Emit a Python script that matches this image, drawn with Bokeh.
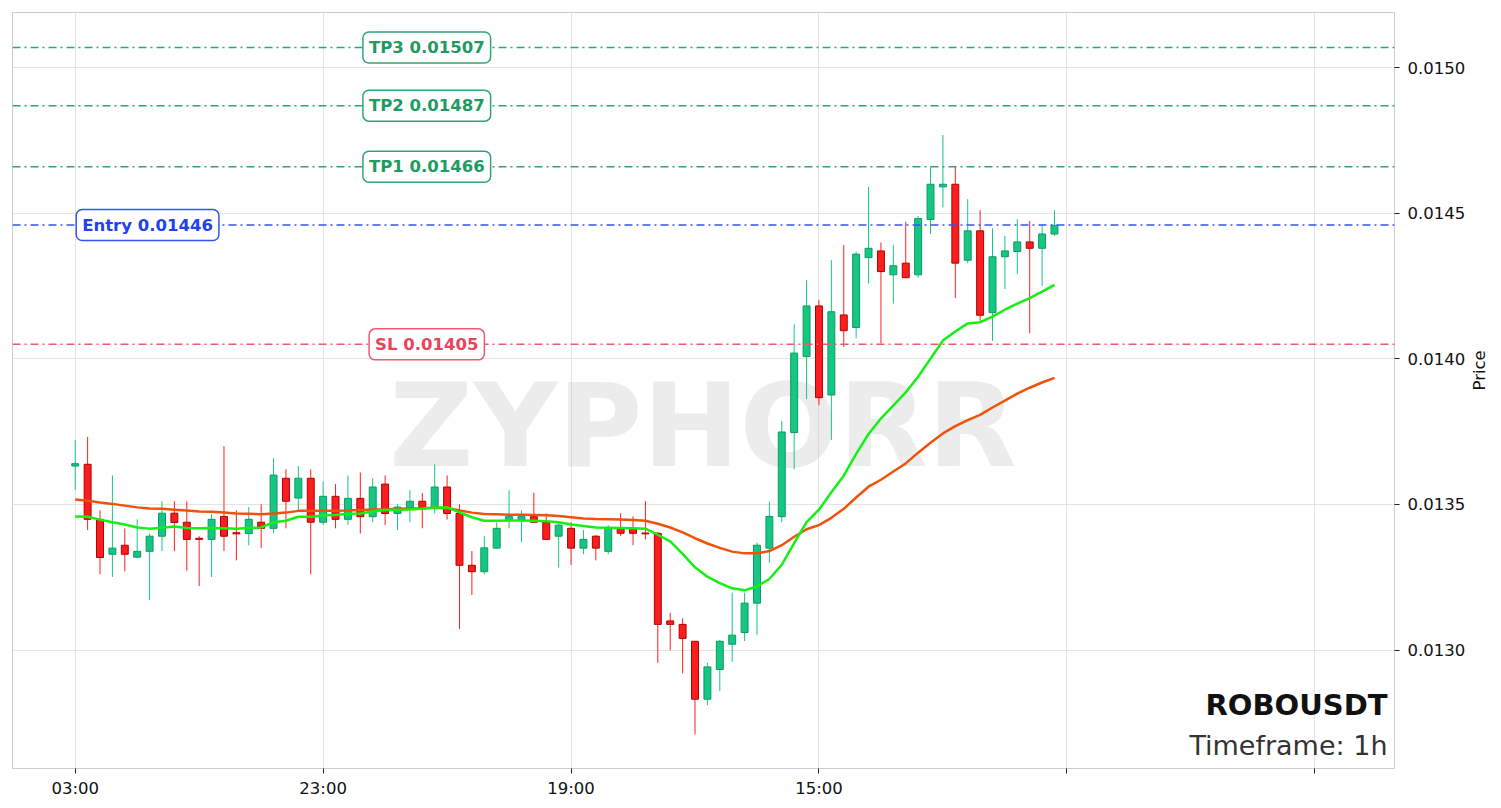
from math import pi

from bokeh.models import (
    ColumnDataSource,
    Span,
    Label,
    Range1d,
    FixedTicker,
    NumeralTickFormatter,
)
from bokeh.plotting import figure
from bokeh.core.properties import value
from bokeh.embed import file_html
from bokeh.resources import INLINE

# hourly candles
opens = [0.013632, 0.013638, 0.013449, 0.013329, 0.013360, 0.013319, 0.013339, 0.013391, 0.013470, 0.013439,
         0.013384, 0.013380, 0.013459, 0.013403, 0.013400, 0.013439, 0.013418, 0.013590, 0.013522, 0.013590,
         0.013439, 0.013528, 0.013449, 0.013521, 0.013458, 0.013570, 0.013469, 0.013489, 0.013511, 0.013489,
         0.013560, 0.013469, 0.013291, 0.013269, 0.013350, 0.013448, 0.013448, 0.013458, 0.013439, 0.013391,
         0.013418, 0.013350, 0.013391, 0.013339, 0.013418, 0.013418, 0.013402, 0.013401, 0.013100, 0.013088,
         0.013030, 0.012831, 0.012933, 0.013020, 0.013060, 0.013161, 0.013350, 0.013458, 0.013747, 0.014008,
         0.014182, 0.013876, 0.014151, 0.014108, 0.014348, 0.014371, 0.014289, 0.014329, 0.014289, 0.014479,
         0.014591, 0.014600, 0.014339, 0.014440, 0.014159, 0.014351, 0.014369, 0.014402, 0.014380, 0.014429]
highs = [0.013722, 0.013732, 0.013480, 0.013600, 0.013418, 0.013449, 0.013400, 0.013511, 0.013511, 0.013511,
         0.013391, 0.013467, 0.013700, 0.013480, 0.013491, 0.013501, 0.013659, 0.013621, 0.013632, 0.013621,
         0.013579, 0.013570, 0.013600, 0.013610, 0.013590, 0.013600, 0.013501, 0.013549, 0.013540, 0.013638,
         0.013600, 0.013501, 0.013340, 0.013391, 0.013438, 0.013549, 0.013480, 0.013540, 0.013469, 0.013435,
         0.013439, 0.013412, 0.013395, 0.013429, 0.013470, 0.013459, 0.013511, 0.013405, 0.013128, 0.013109,
         0.013030, 0.012956, 0.013035, 0.013197, 0.013197, 0.013369, 0.013510, 0.013787, 0.014119, 0.014270,
         0.014202, 0.014339, 0.014391, 0.014369, 0.014591, 0.014400, 0.014391, 0.014471, 0.014491, 0.014660,
         0.014769, 0.014660, 0.014549, 0.014511, 0.014449, 0.014423, 0.014480, 0.014474, 0.014459, 0.014511]
lows = [0.013550, 0.013412, 0.013260, 0.013251, 0.013270, 0.013315, 0.013171, 0.013340, 0.013340, 0.013272,
        0.013220, 0.013251, 0.013340, 0.013308, 0.013360, 0.013350, 0.013401, 0.013418, 0.013478, 0.013260,
        0.013430, 0.013418, 0.013430, 0.013400, 0.013439, 0.013429, 0.013412, 0.013439, 0.013418, 0.013469,
        0.013448, 0.013072, 0.013189, 0.013260, 0.013350, 0.013418, 0.013370, 0.013439, 0.013380, 0.013283,
        0.013292, 0.013329, 0.013308, 0.013329, 0.013391, 0.013360, 0.013380, 0.012956, 0.012999, 0.012920,
        0.012710, 0.012811, 0.012859, 0.012959, 0.013031, 0.013052, 0.013300, 0.013439, 0.013621, 0.013862,
        0.013841, 0.013721, 0.014041, 0.014071, 0.014259, 0.014053, 0.014190, 0.014279, 0.014279, 0.014429,
        0.014520, 0.014209, 0.014329, 0.014131, 0.014062, 0.014240, 0.014291, 0.014088, 0.014251, 0.014423]
closes = [0.013640, 0.013449, 0.013318, 0.013350, 0.013329, 0.013339, 0.013391, 0.013470, 0.013438, 0.013380,
          0.013380, 0.013449, 0.013391, 0.013399, 0.013449, 0.013418, 0.013601, 0.013511, 0.013590, 0.013439,
          0.013528, 0.013449, 0.013521, 0.013458, 0.013560, 0.013469, 0.013491, 0.013511, 0.013489, 0.013560,
          0.013469, 0.013291, 0.013269, 0.013351, 0.013418, 0.013458, 0.013458, 0.013439, 0.013380, 0.013429,
          0.013350, 0.013380, 0.013350, 0.013418, 0.013401, 0.013401, 0.013399, 0.013088, 0.013088, 0.013040,
          0.012831, 0.012942, 0.013030, 0.013051, 0.013161, 0.013360, 0.013459, 0.013749, 0.014020, 0.014182,
          0.013867, 0.014162, 0.014097, 0.014360, 0.014380, 0.014300, 0.014320, 0.014279, 0.014482, 0.014600,
          0.014600, 0.014329, 0.014440, 0.014150, 0.014351, 0.014371, 0.014402, 0.014380, 0.014429, 0.014459]

# the two moving averages as drawn
ma_fast = [0.013459, 0.013458, 0.013448, 0.013439, 0.013431, 0.013421, 0.013417, 0.013420, 0.013424, 0.013419,
           0.013418, 0.013419, 0.013418, 0.013417, 0.013419, 0.013421, 0.013439, 0.013444, 0.013458, 0.013458,
           0.013462, 0.013464, 0.013468, 0.013469, 0.013476, 0.013481, 0.013482, 0.013483, 0.013485, 0.013490,
           0.013490, 0.013473, 0.013456, 0.013444, 0.013444, 0.013445, 0.013445, 0.013444, 0.013442, 0.013439,
           0.013431, 0.013426, 0.013421, 0.013420, 0.013419, 0.013418, 0.013417, 0.013396, 0.013373, 0.013330,
           0.013284, 0.013252, 0.013230, 0.013212, 0.013205, 0.013219, 0.013244, 0.013293, 0.013367, 0.013439,
           0.013482, 0.013542, 0.013599, 0.013674, 0.013742, 0.013795, 0.013840, 0.013885, 0.013939, 0.014001,
           0.014063, 0.014094, 0.014122, 0.014126, 0.014145, 0.014169, 0.014190, 0.014209, 0.014231, 0.014254]
ma_slow = [0.013517, 0.013513, 0.013507, 0.013502, 0.013496, 0.013490, 0.013486, 0.013485, 0.013482, 0.013479,
           0.013476, 0.013475, 0.013472, 0.013469, 0.013468, 0.013466, 0.013469, 0.013472, 0.013478, 0.013478,
           0.013478, 0.013478, 0.013479, 0.013481, 0.013483, 0.013483, 0.013485, 0.013486, 0.013487, 0.013489,
           0.013488, 0.013479, 0.013472, 0.013467, 0.013466, 0.013465, 0.013465, 0.013464, 0.013463, 0.013460,
           0.013456, 0.013452, 0.013450, 0.013449, 0.013448, 0.013447, 0.013444, 0.013434, 0.013421, 0.013404,
           0.013384, 0.013366, 0.013351, 0.013338, 0.013332, 0.013332, 0.013340, 0.013360, 0.013389, 0.013415,
           0.013429, 0.013454, 0.013485, 0.013524, 0.013561, 0.013585, 0.013613, 0.013641, 0.013678, 0.013712,
           0.013744, 0.013769, 0.013790, 0.013808, 0.013833, 0.013857, 0.013881, 0.013901, 0.013919, 0.013935]

tick_pos = [0, 20, 40, 60, 80, 100]
tick_labels = ["03:00", "23:00", "19:00", "15:00", "", ""]
price_ticks = [0.0130, 0.0135, 0.0140, 0.0145, 0.0150]

level_names = ["TP3", "TP2", "TP1", "Entry", "SL"]
level_prices = [0.01507, 0.01487, 0.01466, 0.01446, 0.01405]
level_line_colors = ["#2fa673", "#2fa673", "#2fa673", "#3355ee", "#ee5a6e"]
level_text_colors = ["#1e9a62", "#1e9a62", "#1e9a62", "#2241ee", "#e8445c"]

symbol = "ROBOUSDT"
timeframe = "Timeframe: 1h"
watermark = "ZYPHORR"

FONT = "DejaVu Sans"

idx = list(range(len(opens)))
up = [c >= o for o, c in zip(opens, closes)]
source = ColumnDataSource(data=dict(
    x=idx, high=highs, low=lows,
    top=[max(o, c) for o, c in zip(opens, closes)],
    bottom=[min(o, c) for o, c in zip(opens, closes)],
    fill=["#16c784" if u else "#fb1e1e" for u in up],
    edge=["#0c9a63" if u else "#b20000" for u in up],
    wick=["#16c784" if u else "#ff1f1f" for u in up],
))

p = figure(frame_width=1382, frame_height=756,
           x_range=Range1d(-5.06, 106.43), y_range=Range1d(0.012593, 0.015190),
           y_axis_location="right", toolbar_location=None, output_backend="svg",
           min_border_left=12, min_border_top=12, min_border_right=5, min_border_bottom=5)
p.background_fill_color = "white"
p.outline_line_color = "#cccccc"
p.outline_line_width = 1

# big faint watermark behind the candles
p.text(x=[50.65], y=[0.013771], text=[watermark], text_font=value(FONT),
       text_font_style="bold", text_font_size="116px", text_color="#c4c4c4",
       text_alpha=0.33, text_align="center", text_baseline="alphabetic")

p.segment(x0="x", y0="low", x1="x", y1="high", line_color="wick", line_width=1, source=source)
p.vbar(x="x", width=0.56, top="top", bottom="bottom", fill_color="fill",
       line_color="edge", line_width=1, source=source)

p.line(idx, ma_slow, line_color="#f0520a", line_width=2.5)
p.line(idx, ma_fast, line_color="#14f014", line_width=2.5)

for name, price, lc, tc in zip(level_names, level_prices, level_line_colors, level_text_colors):
    p.add_layout(Span(location=price, dimension="width", line_color=lc,
                      line_dash="8 4 2 4", line_width=1.5))
for name, price, lc, tc in zip(level_names, level_prices, level_line_colors, level_text_colors):
    if name == "Entry":
        x, align = 0.08, "left"
    else:
        x, align = 28.36, "center"
    p.add_layout(Label(x=x, y=price, text=f"{name} {price:.5f}", text_align=align,
                       text_baseline="middle", text_font=FONT, text_font_size="16.5px",
                       text_font_style="bold", text_color=tc,
                       background_fill_color="white", border_line_color=lc,
                       border_line_width=1.5, border_radius=6, padding=6))

p.add_layout(Label(x=1375, y=64, x_units="screen", y_units="screen", text=symbol,
                   text_align="right", text_baseline="alphabetic", text_font=FONT,
                   text_font_size="29px", text_font_style="bold", text_color="#111111"))
p.add_layout(Label(x=1375, y=23, x_units="screen", y_units="screen", text=timeframe,
                   text_align="right", text_baseline="alphabetic", text_font=FONT,
                   text_font_size="27px", text_color="#333333"))

p.xaxis.ticker = FixedTicker(ticks=tick_pos)
p.xaxis.major_label_overrides = dict(zip(tick_pos, tick_labels))
p.yaxis.ticker = FixedTicker(ticks=price_ticks)
p.yaxis.formatter = NumeralTickFormatter(format="0.0000")
p.yaxis.axis_label = "Price"
p.yaxis.axis_label_text_font_style = "normal"
p.yaxis.axis_label_text_font_size = "16.5px"
p.yaxis.axis_label_text_font = FONT
p.yaxis.axis_label_text_color = "#111111"
p.yaxis.axis_label_standoff = 11
# read from bottom to top, like the original
p.yaxis.axis_label_orientation = pi / 2
for ax in (p.xaxis, p.yaxis):
    ax.axis_line_color = None
    ax.major_tick_out = 5
    ax.major_tick_in = 0
    ax.minor_tick_out = 0
    ax.minor_tick_in = 0
    ax.major_tick_line_color = "#222222"
    ax.major_label_text_font = FONT
    ax.major_label_text_font_size = "16.5px"
    ax.major_label_text_color = "#111111"
    ax.major_label_standoff = 5
p.yaxis.major_label_standoff = 8
p.grid.grid_line_color = "#e4e4e4"
p.grid.grid_line_width = 1

open("out.html", "w").write(file_html(p, INLINE))
